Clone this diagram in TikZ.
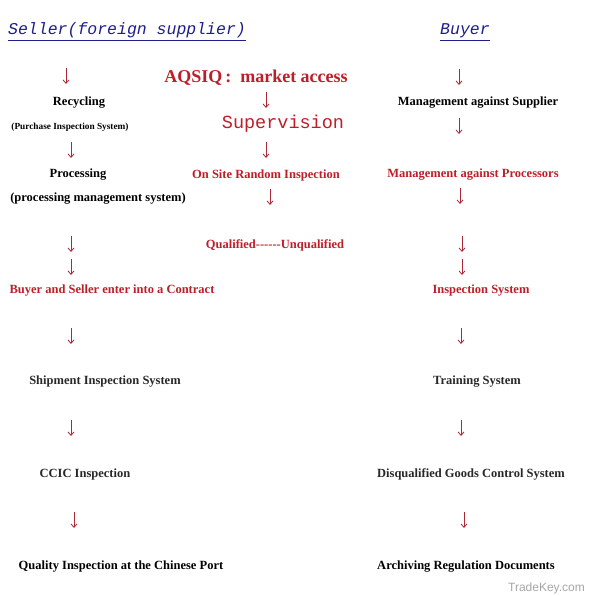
\documentclass[tikz,border=0pt]{standalone}
\usepackage{fontspec}
\setmainfont{Liberation Serif}
\newfontfamily\monof{Liberation Mono}
\newfontfamily\wmfont{Liberation Sans}
\usetikzlibrary{arrows.meta}
\definecolor{hdblue}{RGB}{30,30,140}
\definecolor{txred}{RGB}{190,30,40}
\definecolor{arrred}{RGB}{170,40,55}
\definecolor{txdark}{RGB}{40,40,40}
\tikzset{
  x=1pt, y=-1pt,
  head/.style={font=\monof\itshape\fontsize{16.5}{18}\selectfont, text=hdblue, inner sep=0pt},
  blk/.style={font=\bfseries\fontsize{12.5}{14}\selectfont, text=black, inner sep=1pt, yshift=-2pt},
  gry/.style={font=\bfseries\fontsize{12.5}{14}\selectfont, text=txdark, inner sep=1pt, yshift=-2pt},
  red/.style={font=\bfseries\fontsize{12.5}{14}\selectfont, text=txred, inner sep=1pt, yshift=-2pt},
  small/.style={font=\bfseries\fontsize{9.3}{11}\selectfont, text=black, inner sep=1pt, yshift=-1pt},
  arr/.style={draw=arrred, line width=0.8pt, -{Straight Barb[length=3.5pt,width=6pt]}},
}
\newcommand{\dnarrow}[3]{%
  \coordinate (#1s) at (#2,#3);
  \coordinate (#1e) at (#2,#3+16);
  \draw[arr] (#1s) -- (#1e);}
\begin{document}
\begin{tikzpicture}
\useasboundingbox[fill=white] (0,0) rectangle (588,596);
% headings
\node[head, anchor=base west] (seller) at (8,35) {Seller(foreign supplier)};
\draw[hdblue, line width=0.8pt] ([yshift=-2pt]seller.south west) -- ([yshift=-2pt]seller.south east);
\node[head, anchor=base west] (buyer) at (440,35) {Buyer};
\draw[hdblue, line width=0.8pt] ([yshift=-2pt]buyer.south west) -- ([yshift=-2pt]buyer.south east);
% middle column
\node[font=\bfseries\fontsize{18}{20}\selectfont, text=txred, inner sep=1pt, yshift=-2pt] (aqsiq) at (256,76) {AQSIQ\,:\ \ market access};
\node[font=\monof\fontsize{18.5}{20}\selectfont, text=txred, inner sep=1pt, yshift=-1pt] (superv) at (283,123) {Supervision};
\node[red] (onsite) at (266,173) {On Site Random Inspection};
\node[red] (qual) at (275,243) {Qualified-{}-{}-{}-{}-{}-Unqualified};
\dnarrow{m1}{266}{92}
\dnarrow{m2}{266}{142}
\dnarrow{m3}{270}{189}
% left column
\dnarrow{l1}{66}{68}
\node[blk] (recyc) at (79,101) {Recycling};
\node[small] (purch) at (70,126) {(Purchase Inspection System)};
\dnarrow{l2}{71}{142}
\node[blk] (proc) at (78,173) {Processing};
\node[blk] (procm) at (98,197) {(processing management system)};
\dnarrow{l3}{71}{236}
\dnarrow{l4}{71}{259}
\node[red] (contract) at (112,289) {Buyer and Seller enter into a Contract};
\dnarrow{l5}{71}{328}
\node[gry] (ship) at (105,380) {Shipment Inspection System};
\dnarrow{l6}{71}{420}
\node[gry] (ccic) at (85,472) {CCIC Inspection};
\dnarrow{l7}{74}{512}
\node[blk] (port) at (121,565) {Quality Inspection at the Chinese Port};
% right column
\dnarrow{r1}{459}{69}
\node[blk] (msup) at (478,101) {Management against Supplier};
\dnarrow{r2}{459}{118}
\node[red] (mproc) at (473,173) {Management against Processors};
\dnarrow{r3}{460}{188}
\dnarrow{r4}{462}{236}
\dnarrow{r5}{462}{259}
\node[red] (insp) at (481,289) {Inspection System};
\dnarrow{r6}{461}{328}
\node[gry] (train) at (477,380) {Training System};
\dnarrow{r7}{461}{420}
\node[gry] (disq) at (471,472) {Disqualified Goods Control System};
\dnarrow{r8}{464}{512}
\node[blk] (arch) at (466,565) {Archiving Regulation Documents};
% watermark
\node[font=\wmfont\fontsize{12}{14}\selectfont, text=black!35, inner sep=0pt, anchor=east] (wm) at (585,588) {TradeKey.com};
\end{tikzpicture}
\end{document}
